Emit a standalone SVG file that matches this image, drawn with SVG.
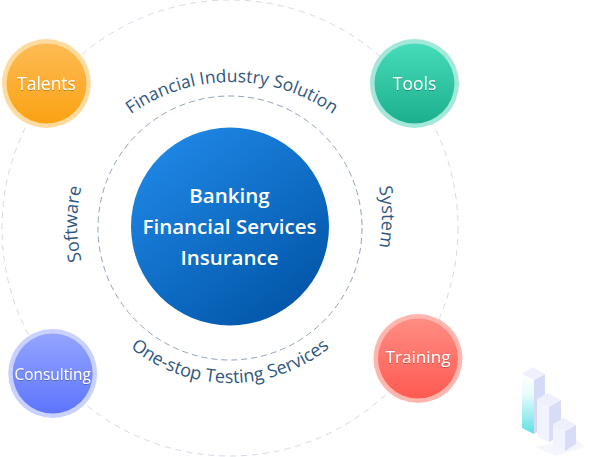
<svg xmlns="http://www.w3.org/2000/svg" width="591" height="457" viewBox="0 0 591 457">
<style>
.ring{fill:none;stroke-width:1}
.arc{font-family:"Open Sans","Lato",sans-serif;font-size:18px;fill:#2f5780}
.lab{font-family:"Open Sans","Lato",sans-serif;font-size:17.500px;font-weight:500;fill:#fff;text-anchor:middle;filter:url(#ts)}
.ctr{font-family:"Open Sans","Lato",sans-serif;font-size:20.500px;font-weight:600;fill:#fff;text-anchor:middle}
</style>
<defs>
<filter id="ts" x="-20%" y="-30%" width="140%" height="170%"><feDropShadow dx="0" dy="1" stdDeviation="0.5" flood-color="#000" flood-opacity=".25"/></filter>
<linearGradient id="gc" x1="0.15" y1="0.1" x2="0.8" y2="0.95"><stop offset="0" stop-color="#1e86e4"/><stop offset="1" stop-color="#0256a8"/></linearGradient>
<linearGradient id="g1" x1="0" y1="0" x2="0" y2="1"><stop offset="0" stop-color="#fdbb55"/><stop offset="1" stop-color="#fba212"/></linearGradient>
<linearGradient id="g2" x1="0" y1="0" x2="0" y2="1"><stop offset="0" stop-color="#46dcb9"/><stop offset="1" stop-color="#1daf8d"/></linearGradient>
<linearGradient id="g3" x1="0" y1="0" x2="0" y2="1"><stop offset="0" stop-color="#94a4ff"/><stop offset="1" stop-color="#5d75fb"/></linearGradient>
<linearGradient id="g4" x1="0" y1="0" x2="0" y2="1"><stop offset="0" stop-color="#ff8d83"/><stop offset="1" stop-color="#fe5a50"/></linearGradient>
<linearGradient id="bar" x1="0" y1="0" x2="0" y2="1"><stop offset="0" stop-color="#fff"/><stop offset=".35" stop-color="#e6fbfb"/><stop offset="1" stop-color="#5fe0e4"/></linearGradient>
<path id="tTop" d="M57 257A175 175 0 0 1 407 257"/>
<path id="tBot" d="M72 225A158 158 0 0 0 388 225"/>
<path id="tLeft" d="M230 377A153 153 0 0 1 230 71"/>
<path id="tRight" d="M230 65A152 152 0 0 1 230 369"/>
</defs>
<g id="connectors">
<circle class="ring" cx="230" cy="228" r="228" stroke="#d3dbe6" stroke-dasharray="6 5"/>
<circle class="ring" cx="230" cy="228" r="132" stroke="#8ea3bb" stroke-dasharray="6 4"/>
</g>
<g id="center"><circle cx="230" cy="226.500" r="99" fill="url(#gc)"/>
<text class="ctr" x="229.500" y="203">Banking</text>
<text class="ctr" x="229.500" y="234">Financial Services</text>
<text class="ctr" x="229.500" y="265">Insurance</text></g>
<g id="talents"><circle cx="46.500" cy="83.500" r="44.500" fill="#fedc9f"/><circle cx="46.500" cy="83.500" r="40" fill="url(#g1)"/><text class="lab" x="46.500" y="90">Talents</text></g>
<g id="tools"><circle cx="414.500" cy="83.500" r="44.500" fill="#a3e8d9"/><circle cx="414.500" cy="83.500" r="40" fill="url(#g2)"/><text class="lab" x="414.500" y="90">Tools</text></g>
<g id="consulting"><circle cx="52.700" cy="373.500" r="44.500" fill="#c9d1ff"/><circle cx="52.700" cy="373.500" r="40" fill="url(#g3)"/><text class="lab" x="52.700" y="380" style="font-size:15.400px">Consulting</text></g>
<g id="training"><circle cx="418" cy="358.500" r="44.500" fill="#ffb6af"/><circle cx="418" cy="358.500" r="40" fill="url(#g4)"/><text class="lab" x="418" y="363" style="font-size:17.200px">Training</text></g>
<g id="arc-labels">
<text class="arc" style="font-size:17.500px"><textPath href="#tTop" startOffset="50%" text-anchor="middle">Financial Industry Solution</textPath></text>
<text class="arc"><textPath href="#tBot" startOffset="50%" text-anchor="middle">One-stop Testing Services</textPath></text>
<text class="arc"><textPath href="#tLeft" startOffset="50%" text-anchor="middle">Software</textPath></text>
<text class="arc"><textPath href="#tRight" startOffset="50%" text-anchor="middle">System</textPath></text>
</g>
<g id="chart">
<polygon points="535,447 556,456 585,447 575,438" fill="#eef0fb" opacity=".6"/>
<polygon points="522,374 534,380 534,434 522,428" fill="url(#bar)"/>
<polygon points="534,380 545,374 545,428 534,434" fill="#d5daf6"/>
<polygon points="522,374 533,367 545,374 534,380" fill="#eef0fd"/>
<polygon points="537,399 549,407 549,442 537,436" fill="#f1f3fe"/>
<polygon points="549,407 561,400 561,436 549,442" fill="#d8dcf6"/>
<polygon points="537,399 548,393 561,400 549,407" fill="#eef0fd"/>
<polygon points="553,424 565,431 565,451 553,444" fill="#f1f3fe"/>
<polygon points="565,431 576,425 576,444 565,451" fill="#d8dcf6"/>
<polygon points="553,424 564,418 576,425 565,431" fill="#eef0fd"/>
</g>
</svg>
